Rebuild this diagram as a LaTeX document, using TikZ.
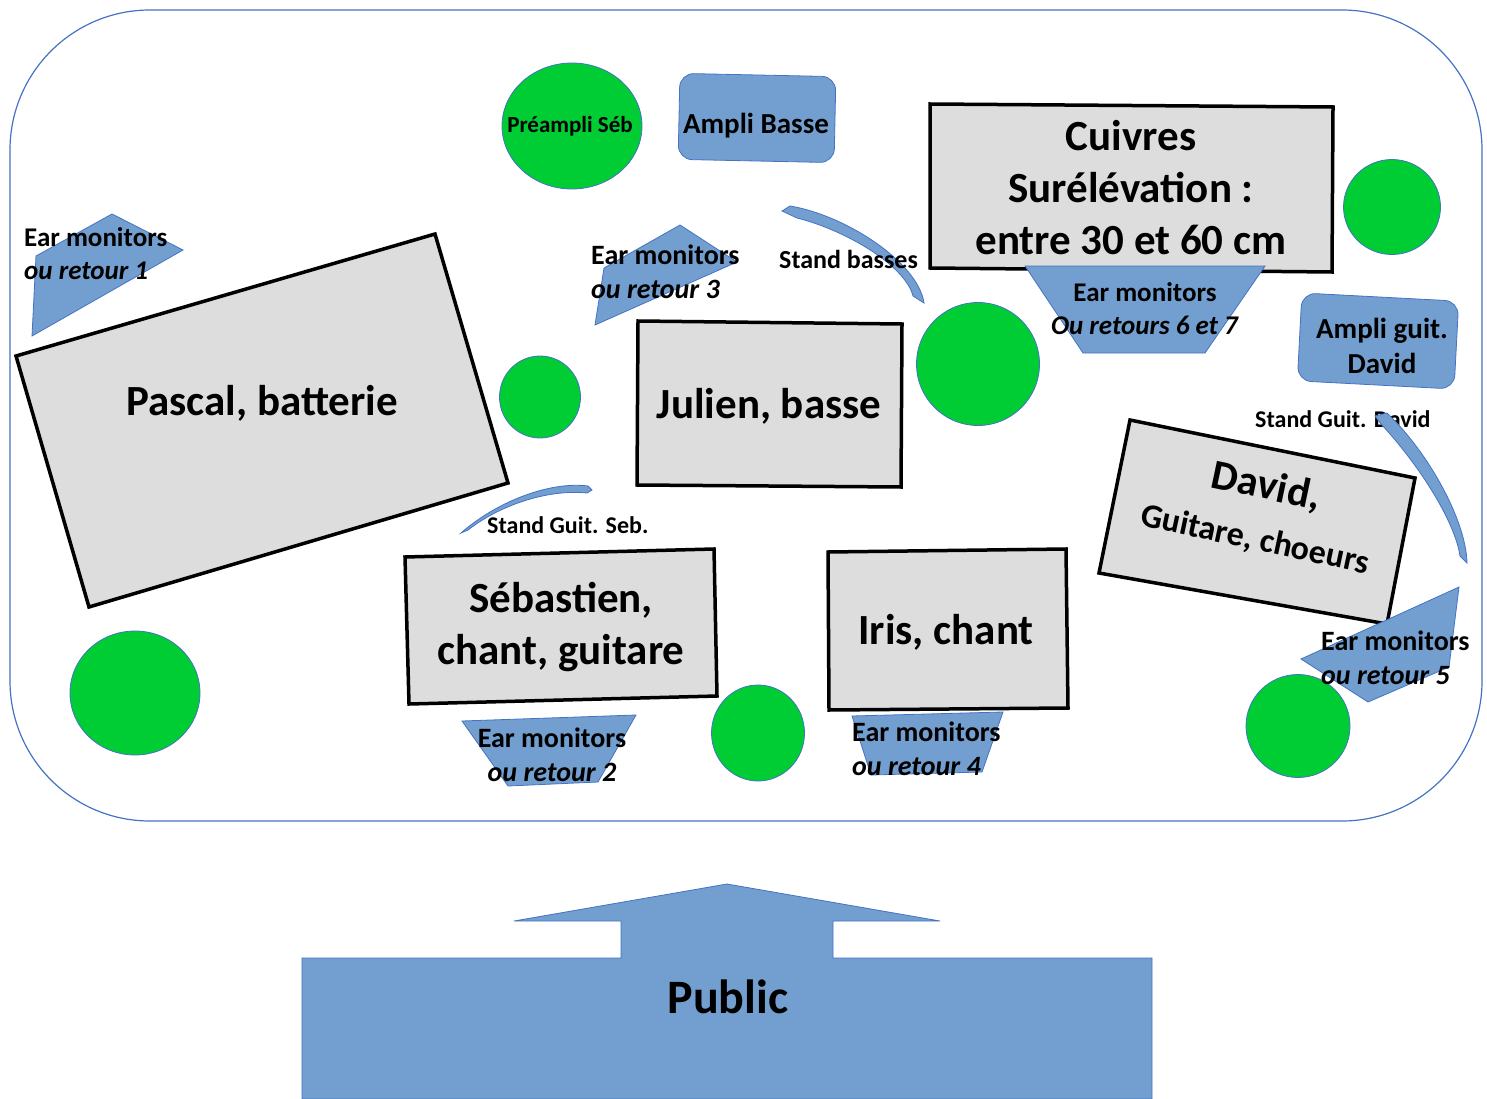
\documentclass[tikz,border=0pt]{standalone}
\usepackage{fontspec}
\setmainfont{Carlito}
\usetikzlibrary{shapes.geometric}

\definecolor{stageblue}{RGB}{68,114,196}
\definecolor{gearblue}{RGB}{114,159,207}
\definecolor{spotgreen}{RGB}{0,204,51}
\definecolor{boxgray}{RGB}{221,221,221}

\begin{document}
\begin{tikzpicture}[x=1pt, y=-1pt,
    stage/.style={draw=stageblue, line width=1.2pt, rounded corners=140pt},
    riser/.style={draw=black, line width=3.5pt, fill=boxgray},
    gear/.style={draw=stageblue, line width=0.8pt, fill=gearblue},
    amp/.style={gear, rounded corners=14pt, inner sep=0pt},
    amptext/.style={font=\fontsize{29}{35}\selectfont\bfseries, align=center, inner sep=0pt},
    spot/.style={ellipse, draw=stageblue, line width=0.8pt, fill=spotgreen, inner sep=0pt},
    who/.style={font=\fontsize{43}{52}\selectfont\bfseries, align=center, inner sep=0pt},
    eartext/.style={font=\fontsize{28}{34}\selectfont\bfseries, inner sep=0pt},
    standtext/.style={font=\fontsize{24}{28}\selectfont\bfseries, inner sep=0pt}
]
\useasboundingbox (0,0) rectangle (1487,1099);

% stage
\draw[stage] (10,10) rectangle (1482,821);

% risers
\draw[riser] (16,356) -- (435,234) -- (508,483) -- (89,607) -- cycle;
\draw[riser] (930,104) -- (1333,107) -- (1332,272) -- (930,268) -- cycle;
\draw[riser] (638,321) -- (902,324) -- (901,487) -- (637,485) -- cycle;
\draw[riser] (405,557) -- (714,549) -- (717,696) -- (409,704) -- cycle;
\draw[riser] (828,552) -- (1066,549) -- (1068,708) -- (829,710) -- cycle;
\draw[riser] (1130,420) -- (1415,478) -- (1387,624) -- (1099,573) -- cycle;

% ear monitors
\draw[gear] (32,336) -- (36,256) -- (112,214) -- (183,250) -- cycle;
\draw[gear] (595,325) -- (604,268) -- (680,225) -- (737,262) -- cycle;
\draw[gear] (1025,266) -- (1265,266) -- (1205,353) -- (1083,353) -- cycle;
\draw[gear] (1301,659) -- (1459,587) -- (1449,667) -- (1368,702) -- cycle;
\draw[gear] (462,721) -- (636,715) -- (598,782) -- (508,786) -- cycle;
\draw[gear] (852,716) -- (1003,712) -- (982,772) -- (871,775) -- cycle;

% amps
\node[amp, minimum width=156pt, minimum height=86pt, rotate=-1.2] (bassamp) at (757,118) {};
\node[amp, minimum width=157pt, minimum height=88pt, rotate=-3] (guitamp) at (1378,341) {};
\node[amptext] (bassamplabel) at (756,126) {Ampli Basse};
\node[amptext] (guitamplabel) at (1382,346) {Ampli guit.\\David};

% stands
\draw[gear] (782,211) -- (790,206) .. controls (845,215) and (918,262) .. (924,303)
    -- (913,296) .. controls (905,265) and (845,230) .. (797,218) -- cycle;
\draw[gear] (461,533) .. controls (495,503) and (548,481) .. (588,486)
    -- (592,490) -- (587,493) .. controls (548,489) and (500,505) .. (468,530) -- cycle;

% wedges
\node[spot, minimum width=140pt, minimum height=126pt] (preampli) at (572,126) {};
\node[font=\fontsize{23}{26}\selectfont\bfseries, inner sep=0pt] (preamplilabel) at (570,126) {Préampli Séb};
\foreach \cx/\cy/\w/\h [count=\i] in {1392/207/97/95, 540/397/81/82, 978/364/123/123,
    135/693/130/124, 758/733/93/96, 1298/726/104/103}
  \node[spot, minimum width=\w pt, minimum height=\h pt] (spot\i) at (\cx,\cy) {};

% musicians
\node[who, anchor=base] (pascal) at (262,415) {Pascal, batterie};
\node[who] (cuivres) at (1131,188) {Cuivres\\Surélévation :\\entre 30 et 60 cm};
\node[who, anchor=base] (julien) at (769,418) {Julien, basse};
\node[who] (seb) at (561,627) {Sébastien,\\chant, guitare};
\node[who, anchor=base] (iris) at (946,644) {Iris, chant};
\node[who, rotate=-12, font=\fontsize{42}{52}\selectfont\bfseries] (david) at (1261,512)
    {David,\\\fontsize{34}{55}\selectfont Guitare, choeurs};

% monitor labels
\node[eartext, anchor=west, align=left, font=\fontsize{27}{33}\selectfont\bfseries] (ear1) at (24,254) {Ear monitors\\\textit{ou retour 1}};
\node[eartext, anchor=west, align=left] (ear3) at (591,272) {Ear monitors\\\textit{ou retour 3}};
\node[eartext, align=center, font=\fontsize{27}{33}\selectfont\bfseries] (ear67) at (1145,309) {Ear monitors\\\textit{Ou retours 6 et 7}};
\node[eartext, anchor=west, align=left] (ear5) at (1321,658) {Ear monitors\\\textit{ou retour 5}};
\node[eartext, align=center] (ear2) at (552,755) {Ear monitors\\\textit{ou retour 2}};
\node[eartext, anchor=west, align=left] (ear4) at (852,749) {Ear monitors\\\textit{ou retour 4}};

% stand labels
\node[eartext, anchor=base west, font=\fontsize{26}{30}\selectfont\bfseries] (bassstand) at (779,269) {Stand basses};
\node[standtext, anchor=base west] (sebstand) at (487,533) {Stand Guit. Seb.};
\node[standtext, anchor=base west] (davidstand) at (1255,427) {Stand Guit. David};
\draw[gear] (1375,416) -- (1387,413) .. controls (1428,452) and (1466,520) .. (1467,563)
    -- (1460,556) .. controls (1455,522) and (1420,466) .. (1381,424) -- cycle;

% audience
\draw[gear] (727,884) -- (940,921) -- (833,921) -- (833,958) -- (1152,958) -- (1152,1099)
    -- (302,1099) -- (302,958) -- (621,958) -- (621,921) -- (514,921) -- cycle;
\node[who, anchor=base, font=\fontsize{48}{52}\selectfont\bfseries] (public) at (728,1013) {Public};

\end{tikzpicture}
\end{document}
